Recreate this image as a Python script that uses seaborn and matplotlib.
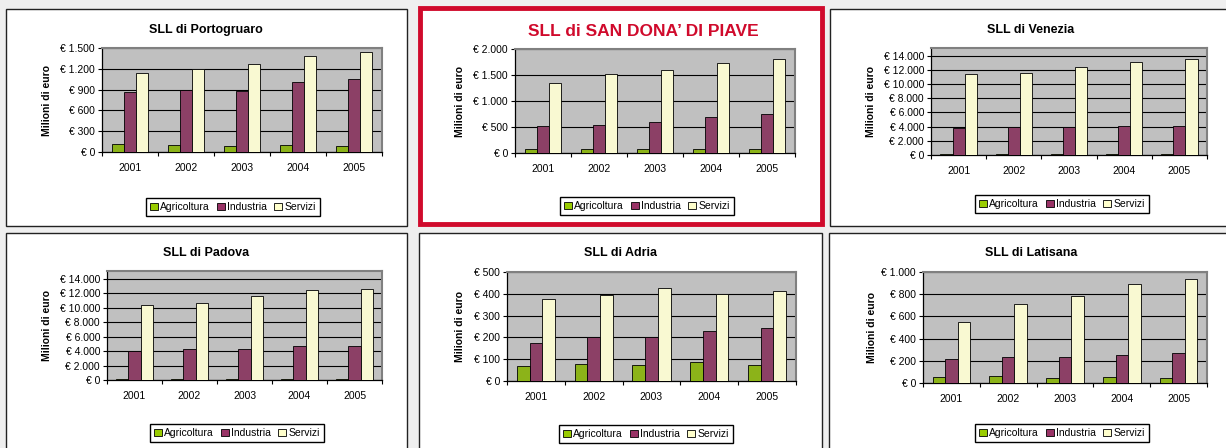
import pandas as pd
import seaborn as sns
import matplotlib.pyplot as plt
from matplotlib.patches import Rectangle, Patch
from matplotlib.ticker import FuncFormatter, MultipleLocator

# Data (milioni di euro)
anni = ["2001", "2002", "2003", "2004", "2005"]
settori = ["Agricoltura", "Industria", "Servizi"]

portogruaro_agr = [120, 106, 92, 106, 92]
portogruaro_ind = [861, 895, 881, 1011, 1060]
portogruaro_ser = [1137, 1190, 1268, 1379, 1442]

sandona_agr = [77, 77, 77, 77, 70]
sandona_ind = [519, 538, 590, 692, 750]
sandona_ser = [1353, 1519, 1596, 1731, 1808]

venezia_agr = [150, 170, 170, 170, 170]
venezia_ind = [3784, 3973, 3973, 4162, 4068]
venezia_ser = [11494, 11589, 12393, 13102, 13528]

padova_agr = [90, 90, 90, 90, 90]
padova_ind = [4019, 4297, 4297, 4712, 4712]
padova_ser = [10349, 10672, 11642, 12520, 12613]

adria_agr = [69, 78, 75, 86, 73]
adria_ind = [174, 200, 200, 228, 242]
adria_ser = [376, 393, 425, 398, 413]

latisana_agr = [57, 66, 48, 51, 45]
latisana_ind = [217, 230, 236, 248, 266]
latisana_ser = [553, 713, 782, 888, 936]

colori = {"Agricoltura": "#99cc00", "Industria": "#993366", "Servizi": "#ffffcc"}

W, H = 1226, 448
fig = plt.figure(figsize=(W / 100, H / 100), dpi=100)
fig.patch.set_facecolor("#efefef")
plt.rcParams["font.family"] = ["Liberation Sans", "DejaVu Sans"]


def fx(x):
    return x / W


def fy(y):
    return 1 - y / H


def euro(v, pos):
    return "€ " + f"{int(v):,}".replace(",", ".")


# panel box, plot area, title pos, legend pos, y label x, ylim, y step
pannelli = [
    ("SLL di Portogruaro", portogruaro_agr, portogruaro_ind, portogruaro_ser,
     (6, 9, 407, 226), (102, 48, 382, 152), (206, 30), (233, 207), 47, 1500, 300),
    ("SLL di SAN DONA’ DI PIAVE", sandona_agr, sandona_ind, sandona_ser,
     (420, 8, 822, 224), (515, 49, 795, 153), (643, 31), (647, 206), 460, 2000, 500),
    ("SLL di Venezia", venezia_agr, venezia_ind, venezia_ser,
     (830, 9, 1240, 226), (931, 48, 1207, 155), (1031, 30), (1062, 204), 871, 15100, 2000),
    ("SLL di Padova", padova_agr, padova_ind, padova_ser,
     (6, 233, 407, 460), (107, 271, 382, 380), (206, 253), (237, 433), 47, 15100, 2000),
    ("SLL di Adria", adria_agr, adria_ind, adria_ser,
     (419, 233, 822, 460), (507, 272, 796, 381), (620, 253), (646, 434), 460, 500, 100),
    ("SLL di Latisana", latisana_agr, latisana_ind, latisana_ser,
     (829, 233, 1240, 460), (923, 272, 1207, 383), (1031, 253), (1062, 433), 872, 1000, 200),
]

for i, (titolo, agr, ind, ser, box, area, tpos, lpos, ylx, ymax, step) in enumerate(pannelli):
    # white panel with border, kept behind the axes
    evid = i == 1
    fig.patches.append(Rectangle((fx(box[0]), fy(box[3])), fx(box[2] - box[0]), (box[3] - box[1]) / H,
                                 transform=fig.transFigure, facecolor="white",
                                 edgecolor="#d00a2c" if evid else "#222222",
                                 linewidth=3.5 if evid else 1.0, zorder=-5))

    df = pd.DataFrame({
        "Anno": anni * 3,
        "Settore": [s for s in settori for _ in anni],
        "Valore": agr + ind + ser,
    })

    ax = fig.add_axes([fx(area[0]), fy(area[3]), fx(area[2] - area[0]), (area[3] - area[1]) / H])
    ax.set_zorder(2)
    sns.barplot(data=df, x="Anno", y="Valore", hue="Settore", palette=colori,
                width=0.66, gap=0, edgecolor="black", linewidth=0.6,
                legend=False, ax=ax, zorder=3)
    ax.set_facecolor("#c0c0c0")
    ax.set_ylim(0, ymax)
    ax.set_xlim(-0.5, 4.5)
    ax.yaxis.set_major_locator(MultipleLocator(step))
    ax.yaxis.set_major_formatter(FuncFormatter(euro))
    ax.grid(axis="y", color="black", linewidth=0.8, zorder=1)
    ax.grid(axis="x", visible=False)
    ax.set_axisbelow(True)
    ax.tick_params(axis="y", labelsize=7.5, length=3, width=0.8, pad=2)
    ax.tick_params(axis="x", labelsize=7.5, length=0, pad=8)
    ax.set_xticks(range(5), anni)
    ax.set_xticks([-0.5, 0.5, 1.5, 2.5, 3.5, 4.5], minor=True)
    ax.tick_params(axis="x", which="minor", length=3, width=0.8)
    ax.set_xlabel("")
    ax.set_ylabel("Milioni di euro", fontsize=7.5, fontweight="bold")
    # label coords set the right edge of the rotated label
    ax.yaxis.set_label_coords((ylx + 5 - area[0]) / (area[2] - area[0]), 0.5)
    for s in ["left", "bottom"]:
        ax.spines[s].set_color("black")
        ax.spines[s].set_linewidth(0.9)
    for s in ["top", "right"]:
        ax.spines[s].set_color("#808080")
        ax.spines[s].set_linewidth(1.5)

    if evid:
        fig.text(fx(tpos[0]), fy(tpos[1]), titolo, ha="center", va="center",
                 fontsize=12.5, fontweight="bold", color="#d00a2c")
    else:
        fig.text(fx(tpos[0]), fy(tpos[1]), titolo, ha="center", va="center",
                 fontsize=9, fontweight="bold")

    handles = [Patch(facecolor=colori[s], edgecolor="black", linewidth=0.6, label=s) for s in settori]
    fig.legend(handles=handles, loc="center", bbox_to_anchor=(fx(lpos[0]), fy(lpos[1])),
               ncol=3, fontsize=7.5, frameon=True, fancybox=False, edgecolor="black",
               handlelength=0.75, handleheight=0.75, handletextpad=0.2, columnspacing=0.7,
               borderpad=0.4, framealpha=1)

plt.savefig("out.png", dpi=100, facecolor=fig.get_facecolor())
